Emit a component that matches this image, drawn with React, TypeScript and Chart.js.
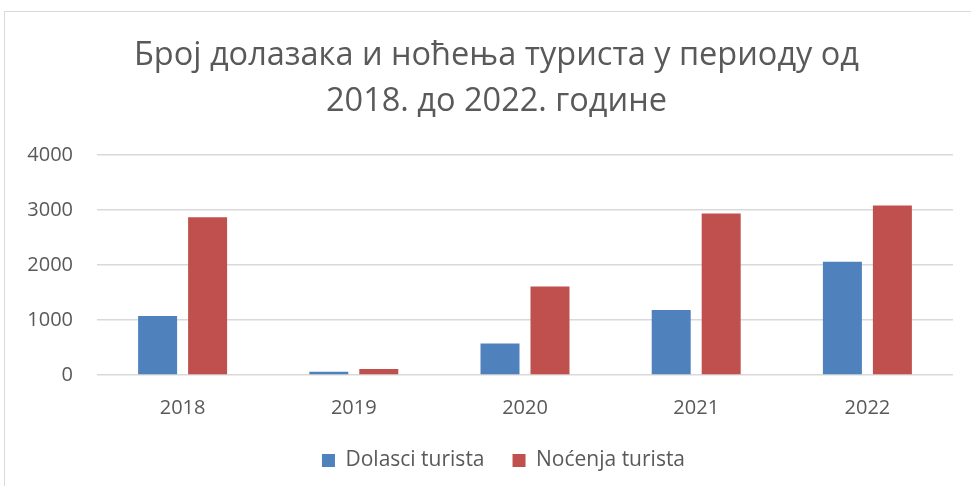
import React, { useEffect, useRef } from "react";
import { Chart, registerables } from "chart.js";

Chart.register(...registerables);

const titleLines = ["Број долазака и ноћења туриста у периоду од", "2018. до 2022. године"];
const categories = ["2018", "2019", "2020", "2021", "2022"];
const dolasci = [1075, 60, 575, 1180, 2060];
const nocenja = [2870, 110, 1610, 2935, 3080];
const seriesNames = ["Dolasci turista", "Noćenja turista"];
const yTicks = [0, 1000, 2000, 3000, 4000];

const FONT = "'Open Sans', 'Noto Sans', sans-serif";
const TEXT = "#595959";

const FIT_PAD = 11;
const ITEM_GAP = 28;

const boxShift = {
  id: "boxShift",
  afterLayout(chart: any) {
    const t = chart.titleBlock;
    if (t) {
      t.left += 18;
      t.right += 18;
    }
    const lg = chart.legend;
    if (lg && lg.options && lg.options.labels) {
      lg.options.labels.padding = ITEM_GAP;
      lg.top -= ITEM_GAP - FIT_PAD;
      lg.left += 8;
      lg.right += 8;
    }
  },
};

export default function App() {
  const ref = useRef<HTMLCanvasElement | null>(null);
  useEffect(() => {
    if (!ref.current) return;
    const chart = new Chart(ref.current, {
      type: "bar",
      data: {
        labels: categories,
        datasets: [
          { label: seriesNames[0], data: dolasci, backgroundColor: "#4f81bd", categoryPercentage: 0.584, barPercentage: 0.78 },
          { label: seriesNames[1], data: nocenja, backgroundColor: "#c0504d", categoryPercentage: 0.584, barPercentage: 0.78 },
        ],
      },
      plugins: [boxShift],
      options: {
        animation: false,
        responsive: false,
        devicePixelRatio: 1,
        layout: { padding: { left: 4, right: 18, top: 0, bottom: 5 } },
        plugins: {
          title: {
            display: true,
            text: titleLines,
            color: TEXT,
            font: { family: FONT, size: 32.5, weight: "normal", lineHeight: 1.4 },
            padding: { top: 33, bottom: 31 },
          },
          legend: {
            position: "bottom",
            labels: {
              color: TEXT,
              font: { family: FONT, size: 21 },
              boxWidth: 13,
              boxHeight: 13,
              padding: FIT_PAD,
            },
          },
          tooltip: { enabled: false },
        },
        scales: {
          x: {
            grid: { display: false, drawTicks: false },
            border: { display: false },
            afterFit: (axis: any) => {
              axis.height = 64;
            },
            ticks: { color: TEXT, font: { family: FONT, size: 20 }, padding: 21 },
          },
          y: {
            min: 0,
            max: 4000,
            afterBuildTicks: (axis: any) => {
              axis.ticks = yTicks.map((v) => ({ value: v }));
            },
            afterFit: (axis: any) => {
              axis.width = 93;
            },
            grid: { color: "#d9d9d9", lineWidth: 1.5, drawTicks: false },
            border: { display: false },
            ticks: {
              color: TEXT,
              font: { family: FONT, size: 20 },
              padding: 24,
              callback: (v: any) => String(v),
            },
          },
        },
      },
    });
    return () => chart.destroy();
  }, []);
  return (
    <div style={{ position: "fixed", left: 0, top: 0, width: 971, height: 486, overflow: "hidden", background: "#fff" }}>
      <div style={{ position: "absolute", left: 4, top: 11, width: 990, height: 500, border: "1px solid #d9d9d9" }} />
      <canvas ref={ref} width={971} height={486} style={{ position: "absolute", left: 0, top: 0 }} />
    </div>
  );
}
